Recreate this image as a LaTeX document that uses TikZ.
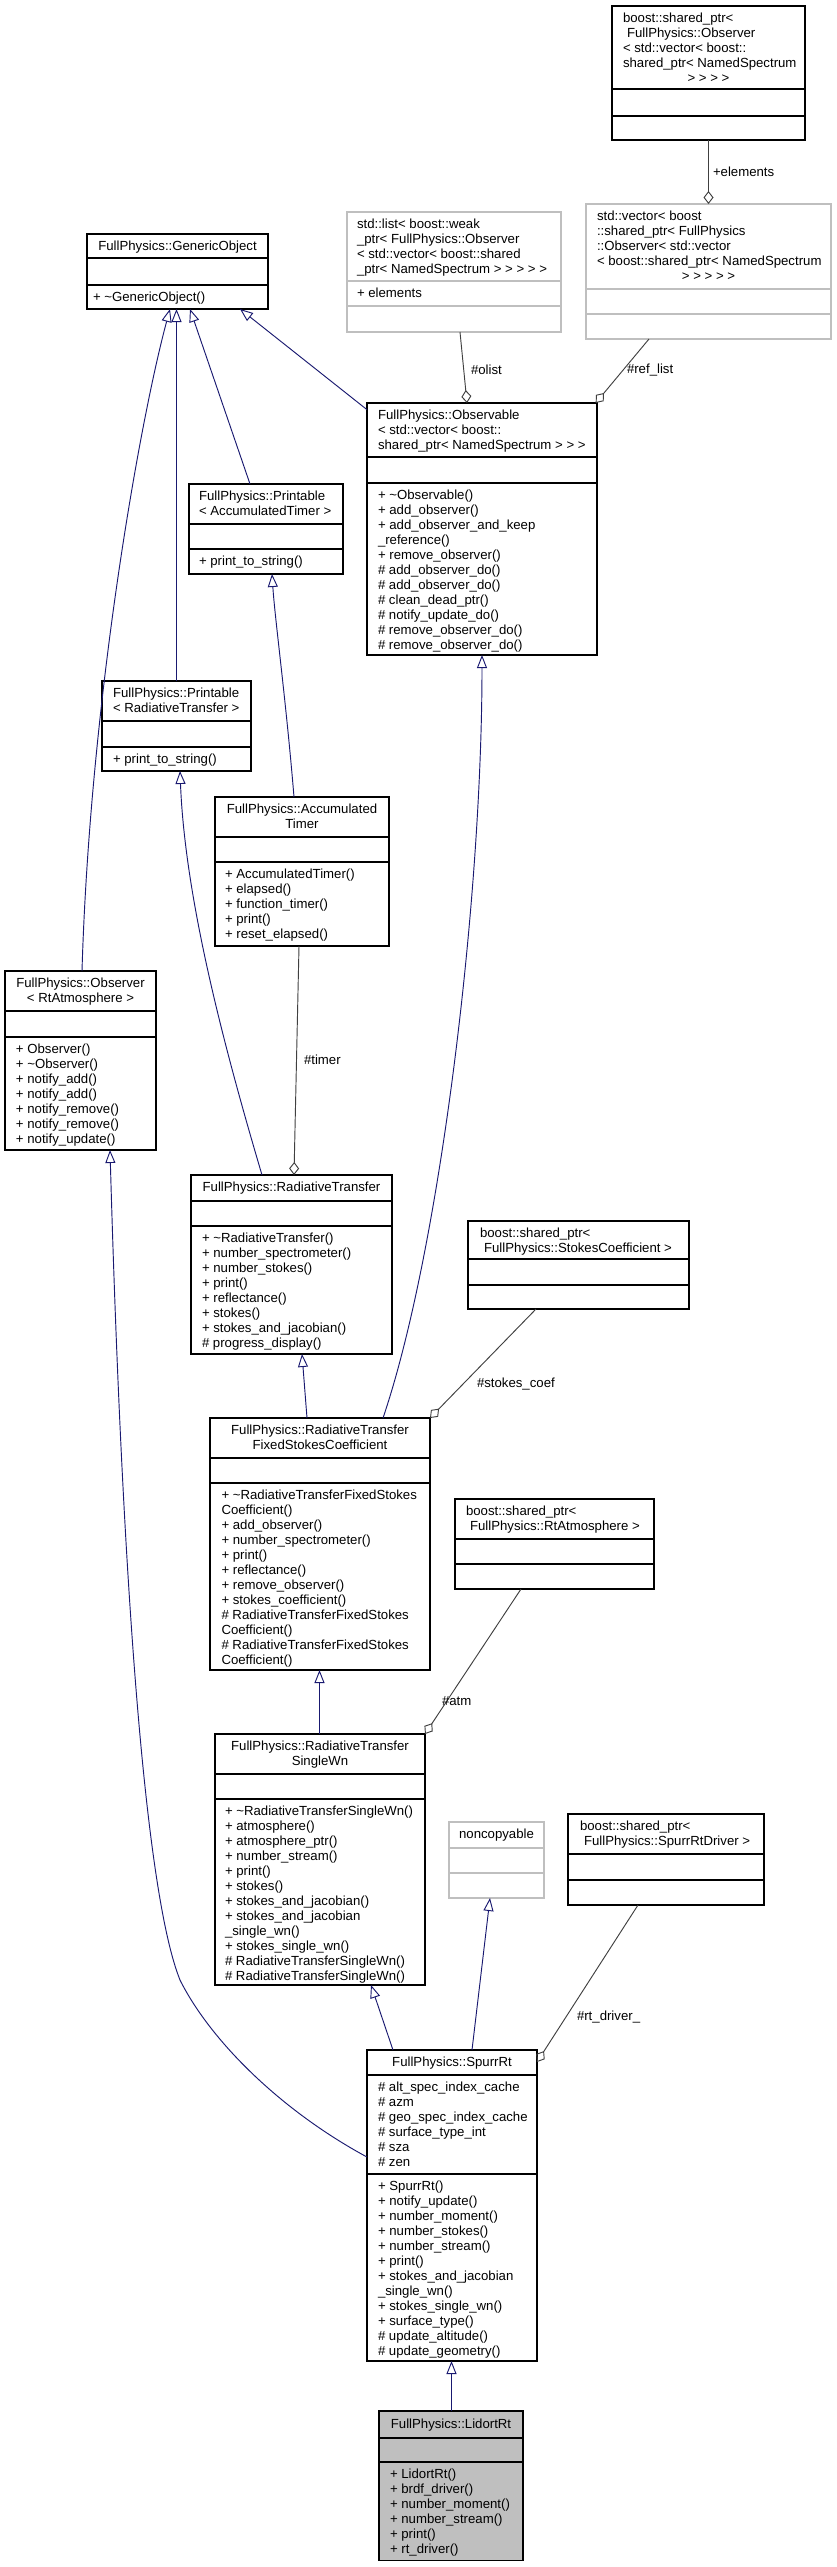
\documentclass[tikz,border=0pt]{standalone}
\usepackage{fontspec}
\setmainfont{Liberation Sans}
\usetikzlibrary{arrows.meta}
\definecolor{edgeblue}{HTML}{191970}
\definecolor{aggcol}{HTML}{404040}
\definecolor{boxgray}{HTML}{BFBFBF}
\newcommand\umlfont{\fontsize{9.9pt}{11.25pt}\selectfont}
\tikzset{
  blackbox/.style={draw=black,line width=0.8pt},
  graybox/.style={draw=boxgray,line width=0.8pt},
  curbox/.style={draw=black,fill=boxgray,line width=0.8pt},
  clsbox/.style={rectangle,inner sep=0pt,outer sep=0pt,anchor=north west},
  txtl/.style={anchor=north west,yshift=8pt,align=left,inner sep=0pt,outer sep=0pt,font=\umlfont},
  txtc/.style={anchor=north,yshift=8pt,align=center,inner sep=0pt,outer sep=0pt,font=\umlfont},
  lbl/.style={anchor=west,inner sep=0pt,outer sep=0pt,font=\umlfont},
  inherit/.style={draw=edgeblue,line width=0.7pt,-{Triangle[open,length=9.75pt,width=7.5pt]}},
  aggr/.style={draw=aggcol,line width=0.7pt,{Diamond[open,length=9.75pt,width=7.5pt]}-},
}
% #1 name, #2 style, #3 x1, #4 y1, #5 x2, #6 y2, #7 sep1, #8 sep2
\newcommand\umlcls[8]{%
  \node[clsbox,#2,minimum width={(#5-#3)*0.75pt},minimum height={(#6-#4)*0.75pt}] (#1) at (#3,#4) {};
  \draw[#2] (#1.west |- 0,#7) -- (#1.east |- 0,#7);
  \draw[#2] (#1.west |- 0,#8) -- (#1.east |- 0,#8);
}
\newcommand\umltl[4]{\node[txtl] (#1) at (#2,#3) {\rule{0pt}{8pt}#4};}
\newcommand\umltc[4]{\node[txtc] (#1) at (#2,#3) {\rule{0pt}{8pt}#4};}
\begin{document}
\begin{tikzpicture}[x=0.75pt,y=-0.75pt]
\fill[white] (0,0) rectangle (837,2567);
\useasboundingbox (0,0) rectangle (837,2567);

% ---------- boxes ----------
\umlcls{spo}{blackbox}{612}{6}{805}{140}{89}{116}
\umltl{spot}{623}{22}{boost::shared\_ptr<\\\kern3pt FullPhysics::Observer\\< std::vector< boost::\\shared\_ptr< NamedSpectrum}
\umltc{spot2}{708.5}{82}{> > > >}

\umlcls{lst}{graybox}{347}{212}{561}{332}{281}{306}
\umltl{lstt}{357}{228}{std::list< boost::weak\\\_ptr< FullPhysics::Observer\\< std::vector< boost::shared\\\_ptr< NamedSpectrum > > > > >}
\umltl{lsta}{357}{297}{+ elements}

\umlcls{vec}{graybox}{586}{204}{831}{339}{289}{314}
\umltl{vect}{597}{220}{std::vector< boost\\::shared\_ptr< FullPhysics\\::Observer< std::vector\\< boost::shared\_ptr< NamedSpectrum}
\umltc{vect2}{708.5}{280}{> > > > >}

\umlcls{go}{blackbox}{87}{234}{268}{309}{258}{285}
\umltc{got}{177.5}{250}{FullPhysics::GenericObject}
\umltl{gom}{93}{301}{+ \textasciitilde GenericObject()}

\umlcls{obs}{blackbox}{367}{403}{597}{655}{457}{483}
\umltl{obst}{378}{419}{FullPhysics::Observable\\< std::vector< boost::\\shared\_ptr< NamedSpectrum > > >}
\umltl{obsm}{378}{499}{+ \textasciitilde Observable()\\+ add\_observer()\\+ add\_observer\_and\_keep\\\_reference()\\+ remove\_observer()\\\# add\_observer\_do()\\\# add\_observer\_do()\\\# clean\_dead\_ptr()\\\# notify\_update\_do()\\\# remove\_observer\_do()\\\# remove\_observer\_do()}

\umlcls{pat}{blackbox}{189}{484}{343}{574}{524}{549}
\umltl{patt}{199}{500}{FullPhysics::Printable\\< AccumulatedTimer >}
\umltl{patm}{199}{565}{+ print\_to\_string()}

\umlcls{prt}{blackbox}{102}{681}{251}{771}{721}{747}
\umltl{prtt}{113}{697}{FullPhysics::Printable\\< RadiativeTransfer >}
\umltl{prtm}{113}{763}{+ print\_to\_string()}

\umlcls{at}{blackbox}{215}{797}{389}{946}{837}{862}
\umltc{att}{302}{813}{FullPhysics::Accumulated\\Timer}
\umltl{atm}{225}{878}{+ AccumulatedTimer()\\+ elapsed()\\+ function\_timer()\\+ print()\\+ reset\_elapsed()}

\umlcls{obr}{blackbox}{5}{971}{156}{1150}{1011}{1037}
\umltc{obrt}{80.5}{987}{FullPhysics::Observer\\< RtAtmosphere >}
\umltl{obrm}{16}{1053}{+ Observer()\\+ \textasciitilde Observer()\\+ notify\_add()\\+ notify\_add()\\+ notify\_remove()\\+ notify\_remove()\\+ notify\_update()}

\umlcls{rt}{blackbox}{191}{1175}{392}{1354}{1201}{1226}
\umltc{rtt}{291.5}{1191}{FullPhysics::RadiativeTransfer}
\umltl{rtm}{202}{1242}{+ \textasciitilde RadiativeTransfer()\\+ number\_spectrometer()\\+ number\_stokes()\\+ print()\\+ reflectance()\\+ stokes()\\+ stokes\_and\_jacobian()\\\# progress\_display()}

\umlcls{rtf}{blackbox}{210}{1418}{430}{1670}{1458}{1483}
\umltc{rtft}{320}{1434}{FullPhysics::RadiativeTransfer\\FixedStokesCoefficient}
\umltl{rtfm}{221.5}{1499}{+ \textasciitilde RadiativeTransferFixedStokes\\Coefficient()\\+ add\_observer()\\+ number\_spectrometer()\\+ print()\\+ reflectance()\\+ remove\_observer()\\+ stokes\_coefficient()\\\# RadiativeTransferFixedStokes\\Coefficient()\\\# RadiativeTransferFixedStokes\\Coefficient()}

\umlcls{spsc}{blackbox}{468}{1221}{689}{1309}{1259}{1285}
\umltl{spsct}{480}{1237}{boost::shared\_ptr<\\\kern3pt FullPhysics::StokesCoefficient >}

\umlcls{spra}{blackbox}{455}{1499}{654}{1589}{1539}{1564}
\umltl{sprat}{466}{1515}{boost::shared\_ptr<\\\kern3pt FullPhysics::RtAtmosphere >}

\umlcls{rtsw}{blackbox}{215}{1734}{425}{1985}{1774}{1799}
\umltc{rtswt}{320}{1750}{FullPhysics::RadiativeTransfer\\SingleWn}
\umltl{rtswm}{225}{1815}{+ \textasciitilde RadiativeTransferSingleWn()\\+ atmosphere()\\+ atmosphere\_ptr()\\+ number\_stream()\\+ print()\\+ stokes()\\+ stokes\_and\_jacobian()\\+ stokes\_and\_jacobian\\\_single\_wn()\\+ stokes\_single\_wn()\\\# RadiativeTransferSingleWn()\\\# RadiativeTransferSingleWn()}

\umlcls{nc}{graybox}{449}{1822}{544}{1898}{1848}{1873}
\umltc{nct}{496.5}{1838}{noncopyable}

\umlcls{spd}{blackbox}{568}{1814}{764}{1905}{1854}{1880}
\umltl{spdt}{580}{1830}{boost::shared\_ptr<\\\kern3pt FullPhysics::SpurrRtDriver >}

\umlcls{sr}{blackbox}{367}{2050}{537}{2361}{2075}{2174}
\umltc{srt}{452}{2066}{FullPhysics::SpurrRt}
\umltl{sra}{378}{2091}{\# alt\_spec\_index\_cache\\\# azm\\\# geo\_spec\_index\_cache\\\# surface\_type\_int\\\# sza\\\# zen}
\umltl{srm}{378}{2190}{+ SpurrRt()\\+ notify\_update()\\+ number\_moment()\\+ number\_stokes()\\+ number\_stream()\\+ print()\\+ stokes\_and\_jacobian\\\_single\_wn()\\+ stokes\_single\_wn()\\+ surface\_type()\\\# update\_altitude()\\\# update\_geometry()}

\umlcls{lr}{curbox}{379}{2411}{523}{2560}{2438}{2462}
\umltc{lrt}{451}{2428}{FullPhysics::LidortRt}
\umltl{lrm}{390}{2478}{+ LidortRt()\\+ brdf\_driver()\\+ number\_moment()\\+ number\_stream()\\+ print()\\+ rt\_driver()}

% ---------- inheritance ----------
\draw[inherit] (82,0 |- obr.north) .. controls (90,700) and (140,420) .. (170,0 |- go.south);
\draw[inherit] (176.5,0 |- prt.north) -- (176.5,0 |- go.south);
\draw[inherit] (250,0 |- pat.north) -- (190,0 |- go.south);
\draw[inherit] ([yshift=-5pt]obs.north west) -- (240,0 |- go.south);
\draw[inherit] (294,0 |- at.north) .. controls (286,700) and (275,620) .. (272,0 |- pat.south);
\draw[inherit] (262,0 |- rt.north) .. controls (225,1050) and (185,900) .. (180,0 |- prt.south);
\draw[inherit] (307,0 |- rtf.north) -- (302,0 |- rt.south);
\draw[inherit] (383,0 |- rtf.north) .. controls (440,1250) and (482,900) .. (482,0 |- obs.south);
\draw[inherit] (319.5,0 |- rtsw.north) -- (319.5,0 |- rtf.south);
\draw[inherit] (393,0 |- sr.north) -- (371,0 |- rtsw.south);
\draw[inherit] (472,0 |- sr.north) -- (490,0 |- nc.south);
\draw[inherit] (sr.west |- 0,2157) .. controls (280,2110) and (210,2040) .. (180,1980) .. controls (140,1880) and (120,1500) .. (110,0 |- obr.south);
\draw[inherit] (451.5,0 |- lr.north) -- (451.5,0 |- sr.south);

% ---------- aggregation ----------
\draw[aggr] (708.5,0 |- vec.north) -- (708.5,0 |- spo.south);
\draw[aggr] (467,0 |- obs.north) -- (460,0 |- lst.south);
\draw[aggr] ([xshift=-1pt]obs.north east) -- (649,0 |- vec.south);
\draw[aggr] (294,0 |- rt.north) -- (299,0 |- at.south);
\draw[aggr] (rtf.north east) -- (536,0 |- spsc.south);
\draw[aggr] (rtsw.north east) -- (521,0 |- spra.south);
\draw[aggr] ([yshift=-9pt]sr.north east) -- (638,0 |- spd.south);

\node[lbl] (lel) at (713,172) {+elements};
\node[lbl] (lol) at (471,370) {\#olist};
\node[lbl] (lrl) at (627,370) {\#ref\_list};
\node[lbl] (ltm) at (304,1060) {\#timer};
\node[lbl] (lsc) at (477,1384) {\#stokes\_coef};
\node[lbl] (lat) at (442,1701) {\#atm};
\node[lbl] (lrd) at (577,2017) {\#rt\_driver\_};
\end{tikzpicture}
\end{document}
